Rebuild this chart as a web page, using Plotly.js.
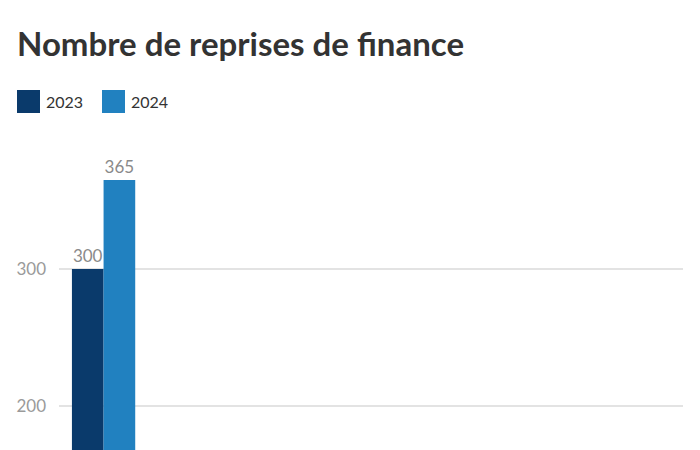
<!DOCTYPE html>
<html>
<head>
<meta charset="utf-8">
<script src="https://cdn.plot.ly/plotly-3.0.1.min.js"></script>
<style>html,body{margin:0;padding:0;background:#fff;overflow:hidden}#chart{width:700px;height:450px}</style>
</head>
<body>
<div id="chart"></div>
<script>
const categories = ["Finance"];
const series2023 = [300];
const series2024 = [365];
const seriesNames = ["2023", "2024"];
const colors = ["#0a3a6b", "#2181c0"];
const title = "Nombre de reprises de finance";

const font = "Lato, 'Open Sans', sans-serif";
const traces = [series2023, series2024].map((vals, i) => ({
  type: "bar",
  name: seriesNames[i],
  x: categories,
  y: vals,
  marker: {color: colors[i], line: {width: 0}},
  text: vals.map(String),
  textposition: "outside",
  cliponaxis: false,
  textfont: {family: font, size: 17, color: "#8a8a8a"},
  hoverinfo: "skip",
  showlegend: false
}));

const shapes = [];
const annotations = [];
const legX = [17, 102];
seriesNames.forEach((n, i) => {
  shapes.push({type: "rect", xref: "paper", yref: "paper",
    x0: (legX[i] - 59) / 624, x1: (legX[i] + 23 - 59) / 624,
    y0: (450 - 113) / 310, y1: (450 - 90) / 310,
    fillcolor: colors[i], line: {width: 0}});
  annotations.push({xref: "paper", yref: "paper",
    x: (legX[i] + 27 - 59) / 624, y: (450 - 101.5) / 310,
    xanchor: "left", yanchor: "middle", showarrow: false,
    text: n, font: {family: font, size: 16, color: "#333"}});
});

const layout = {
  width: 700, height: 450,
  margin: {l: 59, r: 17, t: 140, b: 0},
  paper_bgcolor: "#fff", plot_bgcolor: "#fff",
  title: {text: "<b>" + title + "</b>", x: 17 / 700, xanchor: "left", xref: "container",
    y: 1 - 44 / 450, yanchor: "middle", yref: "container",
    font: {family: font, size: 33, color: "#333"}},
  barmode: "group", bargap: 0.29, bargroupgap: 0,
  xaxis: {range: [-0.5, 6.5], showticklabels: false, showgrid: false, zeroline: false, fixedrange: true},
  yaxis: {range: [167.9, 394.2], tickvals: [200, 300], ticktext: ["200", "300"],
    showgrid: true, gridcolor: "#e3e3e3", gridwidth: 1.5, zeroline: false,
    tickfont: {family: font, size: 17, color: "#9a9a9a"}, ticklabelstandoff: 12, fixedrange: true},
  showlegend: false,
  shapes: shapes,
  annotations: annotations
};

Plotly.newPlot("chart", traces, layout, {displayModeBar: false, staticPlot: true});
</script>
</body>
</html>
